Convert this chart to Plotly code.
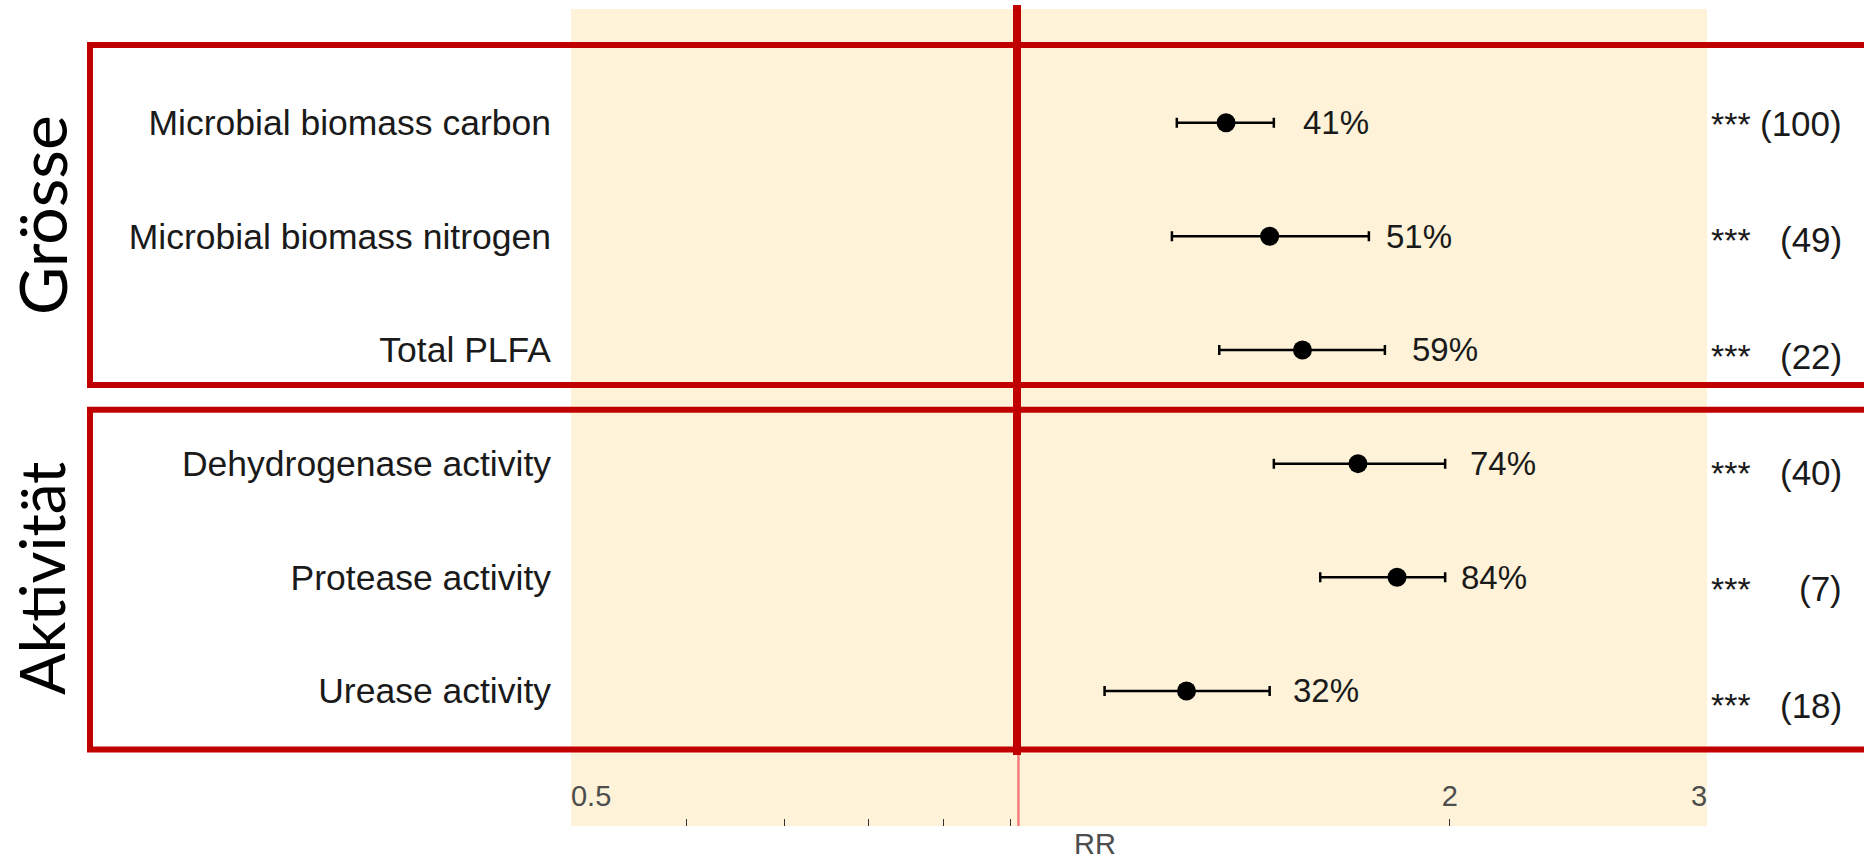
import math
import plotly.graph_objects as go

# ---------------- data ----------------
categories = ["Microbial biomass carbon", "Microbial biomass nitrogen", "Total PLFA",
              "Dehydrogenase activity", "Protease activity", "Urease activity"]
rr = [1.405, 1.505, 1.585, 1.73, 1.84, 1.32]
ci_low = [1.30, 1.29, 1.39, 1.515, 1.63, 1.16]
ci_high = [1.515, 1.76, 1.805, 1.985, 1.985, 1.505]
pct_labels = ["41%", "51%", "59%", "74%", "84%", "32%"]
significance = ["***", "***", "***", "***", "***", "***"]
n_obs = ["(100)", "(49)", "(22)", "(40)", "(7)", "(18)"]
group_names = ["Grösse", "Aktivität"]
x_tickvals = [0.5, 1, 2, 3]
x_ticktext = ["0.5", "", "2", "3"]
x_minor_ticks = [0.6, 0.7, 0.8, 0.9]
x_title = "RR"

# ---------------- style / layout helpers ----------------
W, H = 1864, 859
ML, MR, MT, MB = 571, 157, 9, 33
PW, PH = W - ML - MR, H - MT - MB
label_gap_px = [27, 15, 25, 23, 14, 21]   # gap between CI end and percentage label


def px(x):
    return (x - ML) / PW


def py(y):
    return (H - MB - y) / PH


NB = "\u00a0"
tick_text_padded = [NB * 5 + x_ticktext[0], x_ticktext[1], x_ticktext[2], x_ticktext[3] + NB * 2]

FONT = "Liberation Sans, Arial, sans-serif"
TXT = "#1a1a1a"
RED = "#C00000"

fig = go.Figure()
fig.add_trace(go.Scatter(
    x=rr, y=categories, mode="markers",
    marker=dict(size=19, color="black"),
    error_x=dict(type="data", symmetric=False,
                 array=[h - r for h, r in zip(ci_high, rr)],
                 arrayminus=[r - l for r, l in zip(rr, ci_low)],
                 color="black", thickness=2.5, width=5),
    showlegend=False, hoverinfo="skip",
))

annotations = []
for cat, hi, lab, gap in zip(categories, ci_high, pct_labels, label_gap_px):
    annotations.append(dict(x=math.log10(hi), y=cat, xref="x", yref="y", text=lab,
                            showarrow=False, xanchor="left", xshift=gap,
                            font=dict(family=FONT, size=33, color=TXT)))
for cat, s, n in zip(categories, significance, n_obs):
    annotations.append(dict(x=px(1709), y=cat, xref="paper", yref="y2", text=s,
                            showarrow=False, xanchor="left",
                            font=dict(family=FONT, size=34, color=TXT)))
    annotations.append(dict(x=px(1844), y=cat, xref="paper", yref="y2", text=n,
                            showarrow=False, xanchor="right",
                            font=dict(family=FONT, size=35, color=TXT)))
for name, yc, sz in zip(group_names, [215, 579], [66, 62]):
    annotations.append(dict(x=px(41), y=py(yc), xref="paper", yref="paper", text=name,
                            showarrow=False, textangle=-90, xanchor="center", yanchor="middle",
                            font=dict(family="Lato, Open Sans, sans-serif", size=sz, color="black")))
annotations.append(dict(x=px(1095), y=py(843.5), xref="paper", yref="paper", text=x_title,
                        showarrow=False, xanchor="center", yanchor="middle",
                        font=dict(family=FONT, size=29, color="#4d4d4d")))

shapes = [
    # reference line at RR = 1
    dict(type="line", xref="x", yref="paper", xsizemode="pixel", xanchor=1, x0=8, x1=8,
         y0=0, y1=1, line=dict(color="#F47C7C", width=2.5), layer="below"),
    # highlighted vertical bar
    dict(type="line", xref="paper", yref="paper", x0=px(1017), x1=px(1017), y0=py(5), y1=py(755),
         line=dict(color=RED, width=8)),
    # group boxes
    dict(type="rect", xref="paper", yref="paper", x0=px(90), x1=px(1905), y0=py(385), y1=py(45),
         line=dict(color=RED, width=6), fillcolor="rgba(0,0,0,0)"),
    dict(type="rect", xref="paper", yref="paper", x0=px(90), x1=px(1905), y0=py(749.5), y1=py(409.7),
         line=dict(color=RED, width=6), fillcolor="rgba(0,0,0,0)"),
]

fig.update_layout(
    width=W, height=H,
    margin=dict(l=ML, r=MR, t=MT, b=MB, pad=0),
    paper_bgcolor="white", plot_bgcolor="#FEF2D8",
    font=dict(family=FONT, size=33, color=TXT),
    showlegend=False,
    xaxis=dict(type="log", range=[math.log10(0.5), math.log10(3)],
               showgrid=False, zeroline=False, showline=False,
               tickmode="array", tickvals=x_tickvals, ticktext=tick_text_padded,
               ticks="inside", ticklen=7, tickwidth=1, tickcolor="#333333",
               ticklabelposition="inside", ticklabeloverflow="allow", ticklabelstandoff=10,
               tickfont=dict(family=FONT, size=29, color="#4d4d4d"),
               minor=dict(tickmode="array", tickvals=x_minor_ticks, ticks="inside", ticklen=7,
                          tickwidth=1, tickcolor="#333333", showgrid=False)),
    yaxis=dict(type="category", categoryorder="array", categoryarray=categories,
               range=[6.188, -1.0], showgrid=False, zeroline=False, showline=False,
               ticks="", ticklabelstandoff=19,
               tickfont=dict(family=FONT, size=35.5, color=TXT)),
    yaxis2=dict(type="category", categoryorder="array", categoryarray=categories,
                range=[6.039, -0.986], overlaying="y", visible=False),
    annotations=annotations,
    shapes=shapes,
)

fig.write_html("out.html")
